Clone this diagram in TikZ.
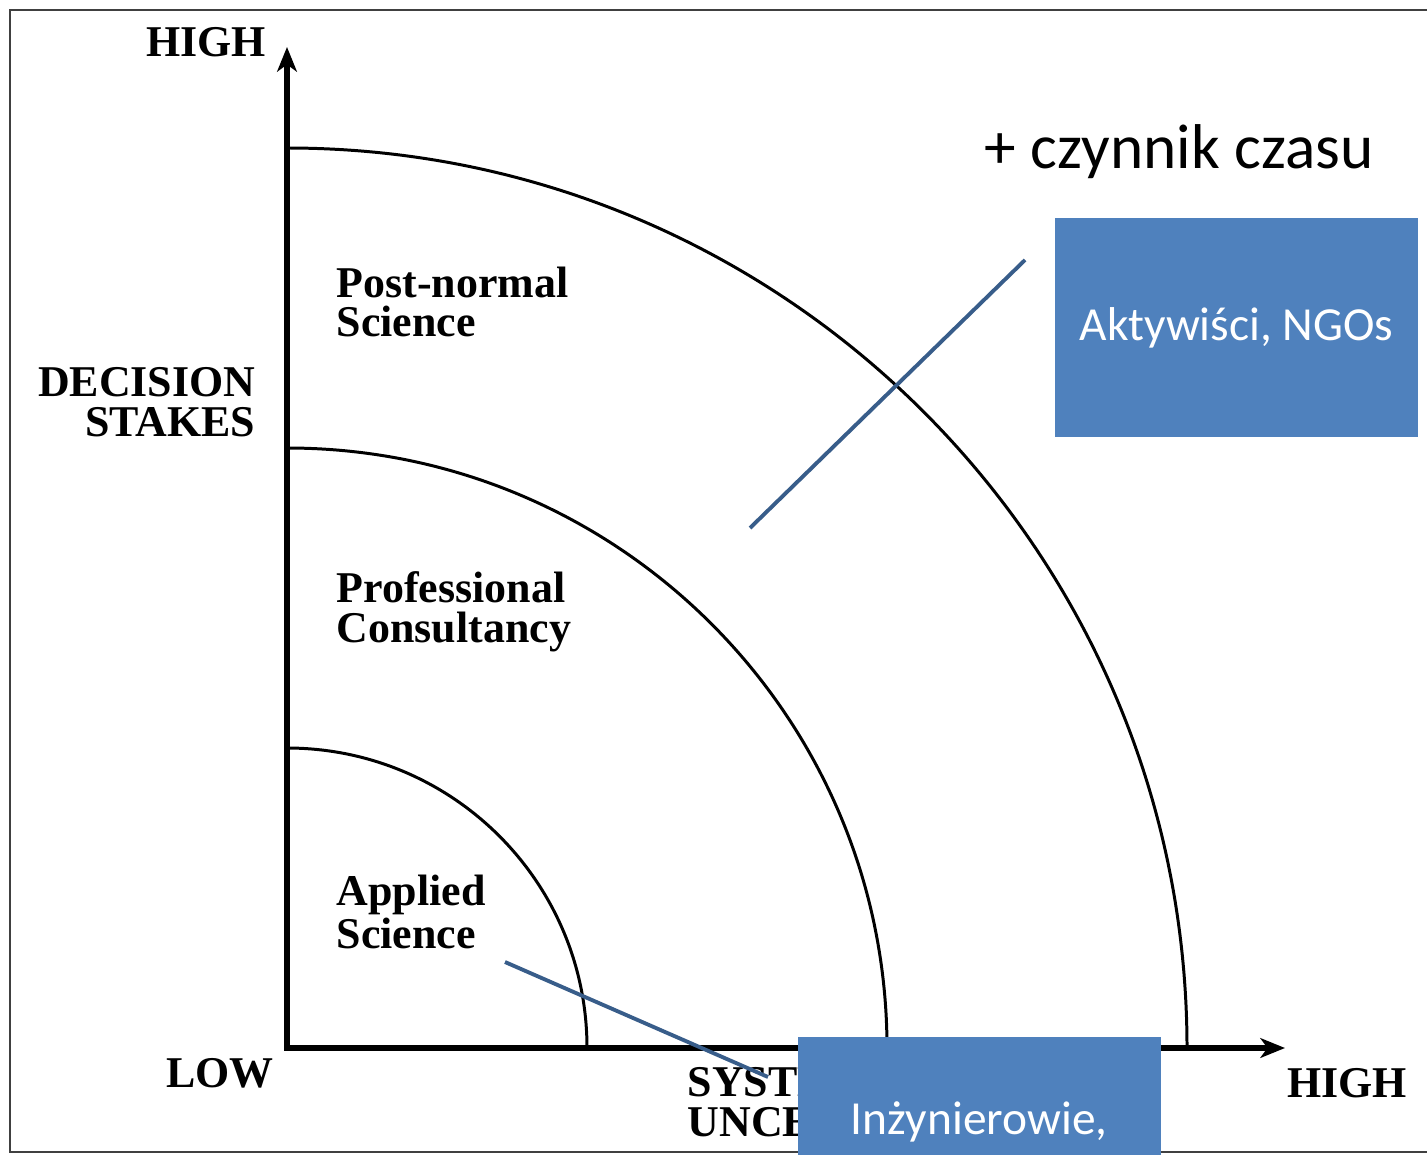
\documentclass[tikz,border=0pt]{standalone}
\usepackage{fontspec}
\setmainfont{Liberation Serif}
\newfontfamily\calibri{Carlito}
\usetikzlibrary{arrows.meta,positioning}
\definecolor{kastenblau}{HTML}{4F81BD}
\definecolor{zeigerblau}{HTML}{385D8A}
\tikzset {
achsentext/.style={font=\bfseries\fontsize{12.5}{11.3}\selectfont,inner sep=0pt},
bereich/.style={achsentext,align=left,anchor=west},
kasten/.style={shape=rectangle,fill=kastenblau,text=white,font=\calibri\fontsize{13.5}{16}\selectfont,minimum width=3.63cm,inner sep=0pt},
zeiger/.style={draw=zeigerblau,line width=1.1pt},
bogen/.style={line width=0.85pt}
}

\begin{document}
\begin{tikzpicture}
[>={Stealth[length=7pt,width=5.6pt,inset=2pt]}]
\useasboundingbox (0,0) rectangle (14.27,11.54);
\draw[black!75,line width=0.7pt] (14.4,11.44) -- (0.1,11.44) -- (0.1,0.02) -- (14.4,0.02);

\coordinate (ursprung) at (2.87,1.06);
\coordinate (y oben) at (2.87,11.07);
\coordinate (x rechts) at (12.85,1.06);
\foreach \r in {3,6,9}
  \draw[bogen] (ursprung) ++(0,\r) arc[start angle=90,end angle=0,radius=\r];
\draw[<->,line width=1.7pt] (y oben) -- (ursprung) -- (x rechts);

\node[achsentext] (hoch y) at (2.06,11.12) {HIGH};
\node[achsentext,align=right,anchor=east] (entscheidung) at (2.56,7.52) {DECISION\\STAKES};
\node[achsentext] (niedrig) at (2.20,0.81) {LOW};
\node[achsentext,align=left,anchor=west] (unsicherheit) at (6.87,0.52) {SYSTEMS\\UNCERTAINTY};
\node[achsentext] (hoch x) at (13.47,0.71) {HIGH};
\node[bereich] (postnormal) at (3.36,8.52) {Post-normal\\Science};
\node[bereich] (beratung) at (3.36,5.42) {Professional\\Consultancy};
\node[bereich] (angewandt) at (3.36,2.42) {Applied\\Science};

\node[font=\calibri\fontsize{18}{22}\selectfont,inner sep=0pt] (zeit) at (11.79,10.02) {+ czynnik czasu};

\coordinate (aktywisci zeiger) at (10.25,8.94);
\coordinate (postnormal ziel) at (7.50,6.26);
\coordinate (angewandt zeiger) at (5.05,1.92);
\coordinate (inzynierowie ziel) at (7.68,0.77);
\draw[zeiger] (aktywisci zeiger) -- (postnormal ziel);
\draw[zeiger] (angewandt zeiger) -- (inzynierowie ziel);

\node[kasten,minimum height=2.19cm] (aktywisci) at (12.365,8.265) {Aktywiści, NGOs};
\node[kasten,anchor=north,text height=0.98cm,text depth=1.21cm] (inzynierowie) at (9.79,1.18) {Inżynierowie,};
\end{tikzpicture}
\end{document}
